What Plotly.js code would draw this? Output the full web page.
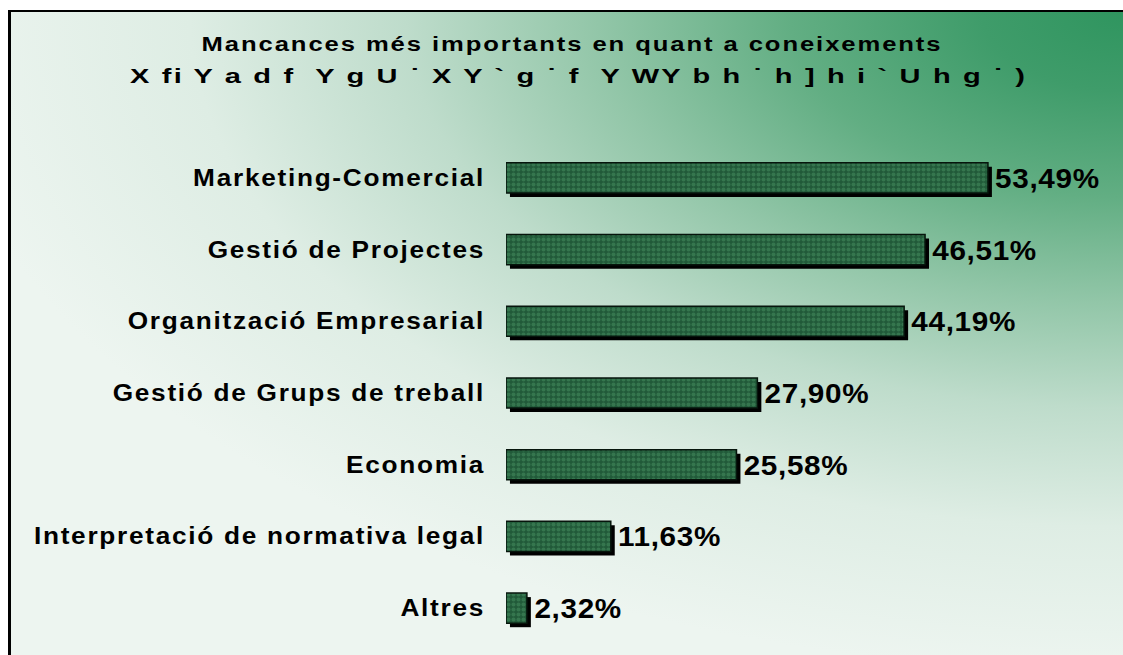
<!DOCTYPE html>
<html>
<head>
<meta charset="utf-8">
<script src="https://cdn.plot.ly/plotly-3.0.1.min.js"></script>
<style>
  html, body { margin: 0; padding: 0; background: #ffffff; width: 1123px; height: 655px; overflow: hidden; }
  #frame {
    position: absolute; left: 8px; top: 10px; width: 1200px; height: 700px;
    border-left: 3px solid #000; border-top: 2px solid #000;
    background: radial-gradient(ellipse 1200px 660px at 1115px 0px,
      #2f955f 0%, #3f9c6a 12%, #62ae83 28%, #92c6a8 44%, #bedccb 60%, #deede4 78%, #edf5f0 100%);
  }
  #chart { position: absolute; left: 0; top: 0; width: 1123px; height: 655px; }
  #chart .gtitle { letter-spacing: 1.5px; }
  #chart .annotation-text { letter-spacing: 1.5px; }
  #chart .ytick text { letter-spacing: 1.5px; }
  #chart text.bartext { letter-spacing: 0.6px; }
</style>
</head>
<body>
<div id="frame"></div>
<div id="chart"></div>
<script>
const categories = [
  "Marketing-Comercial",
  "Gestió de Projectes",
  "Organització Empresarial",
  "Gestió de Grups de treball",
  "Economia",
  "Interpretació de normativa legal",
  "Altres"
];
const values = [53.49, 46.51, 44.19, 27.90, 25.58, 11.63, 2.32];
const valueLabels = ["53,49%", "46,51%", "44,19%", "27,90%", "25,58%", "11,63%", "2,32%"];
const titleLine1 = "Mancances més importants en quant a coneixements";
const titleLine2 = "X fi Y a d f  Y g U ˙ X Y ` g ˙ f  Y WY b h ˙ h ] h i ` U h g ˙ )";

const FONT = "Liberation Sans, Arial, Helvetica, sans-serif";
const BAR_W = 0.42;
const SHADOW_SHIFT = 4 / 71.67;

const shadow = {
  type: "bar",
  orientation: "h",
  y: categories,
  x: values,
  base: 0.44,
  width: BAR_W,
  offset: -BAR_W / 2 + SHADOW_SHIFT,
  marker: { color: "#000000", line: { width: 0 } },
  text: valueLabels,
  textposition: "outside",
  constraintext: "none",
  cliponaxis: false,
  textfont: { family: FONT, size: 27, weight: "bold", color: "#000000" },
  hoverinfo: "skip",
  showlegend: false
};

const face = {
  type: "bar",
  orientation: "h",
  y: categories,
  x: values,
  width: BAR_W,
  offset: -BAR_W / 2,
  marker: {
    color: "#235f3d",
    line: { color: "#06150c", width: 1.5 },
    pattern: { shape: ".", size: 5, solidity: 0.5, fgcolor: "#3a7d54", bgcolor: "#215a39", fgopacity: 0.8 }
  },
  hoverinfo: "x+y",
  showlegend: false
};

const layout = {
  width: 1123,
  height: 655,
  margin: { l: 506, r: 0, t: 142, b: 11, pad: 0 },
  paper_bgcolor: "rgba(0,0,0,0)",
  plot_bgcolor: "rgba(0,0,0,0)",
  barmode: "overlay",
  showlegend: false,
  title: {
    text: titleLine1,
    font: { family: FONT, size: 20, weight: "bold", color: "#000000" },
    x: 572 / 1123, xref: "container", xanchor: "center",
    y: 1 - 44 / 655, yref: "container", yanchor: "middle"
  },
  annotations: [{
    text: titleLine2,
    xref: "paper", yref: "paper",
    x: (578 - 506) / 617, xanchor: "center",
    y: (644 - 76) / 502, yanchor: "middle",
    showarrow: false,
    font: { family: FONT, size: 20, weight: "bold", color: "#000000" }
  }],
  xaxis: {
    range: [0, 617 / 9.01],
    showgrid: false, zeroline: false, showline: false,
    showticklabels: false, ticks: "", fixedrange: true
  },
  yaxis: {
    type: "category",
    autorange: "reversed",
    showgrid: false, zeroline: false, showline: false,
    ticks: "", ticklabelstandoff: 20,
    tickfont: { family: FONT, size: 23, weight: "bold", color: "#000000" },
    fixedrange: true
  }
};

// widen glyphs horizontally (the original artwork uses a horizontally stretched font)
function widen(el, k) {
  const w = el.getComputedTextLength();
  el.setAttribute("textLength", (w * k).toFixed(2));
  el.setAttribute("lengthAdjust", "spacingAndGlyphs");
  return w;
}

Plotly.newPlot("chart", [shadow, face], layout, { displayModeBar: false, staticPlot: true }).then(function () {
  const root = document.getElementById("chart");
  root.querySelectorAll(".gtitle").forEach(function (t) { widen(t, 1.28); });
  root.querySelectorAll(".annotation-text").forEach(function (t) { widen(t, 1.45); });
  root.querySelectorAll(".ytick text").forEach(function (t) { widen(t, 1.14); });
  root.querySelectorAll("text.bartext").forEach(function (t) {
    const k = 1.1;
    const w = widen(t, k);
    const x = parseFloat(t.getAttribute("x") || "0");
    const y = parseFloat(t.getAttribute("y") || "0");
    t.setAttribute("x", (x + (k - 1) * w / 2 + 2).toFixed(2));
    t.setAttribute("y", (y - 3).toFixed(2));
  });
});
</script>
</body>
</html>
